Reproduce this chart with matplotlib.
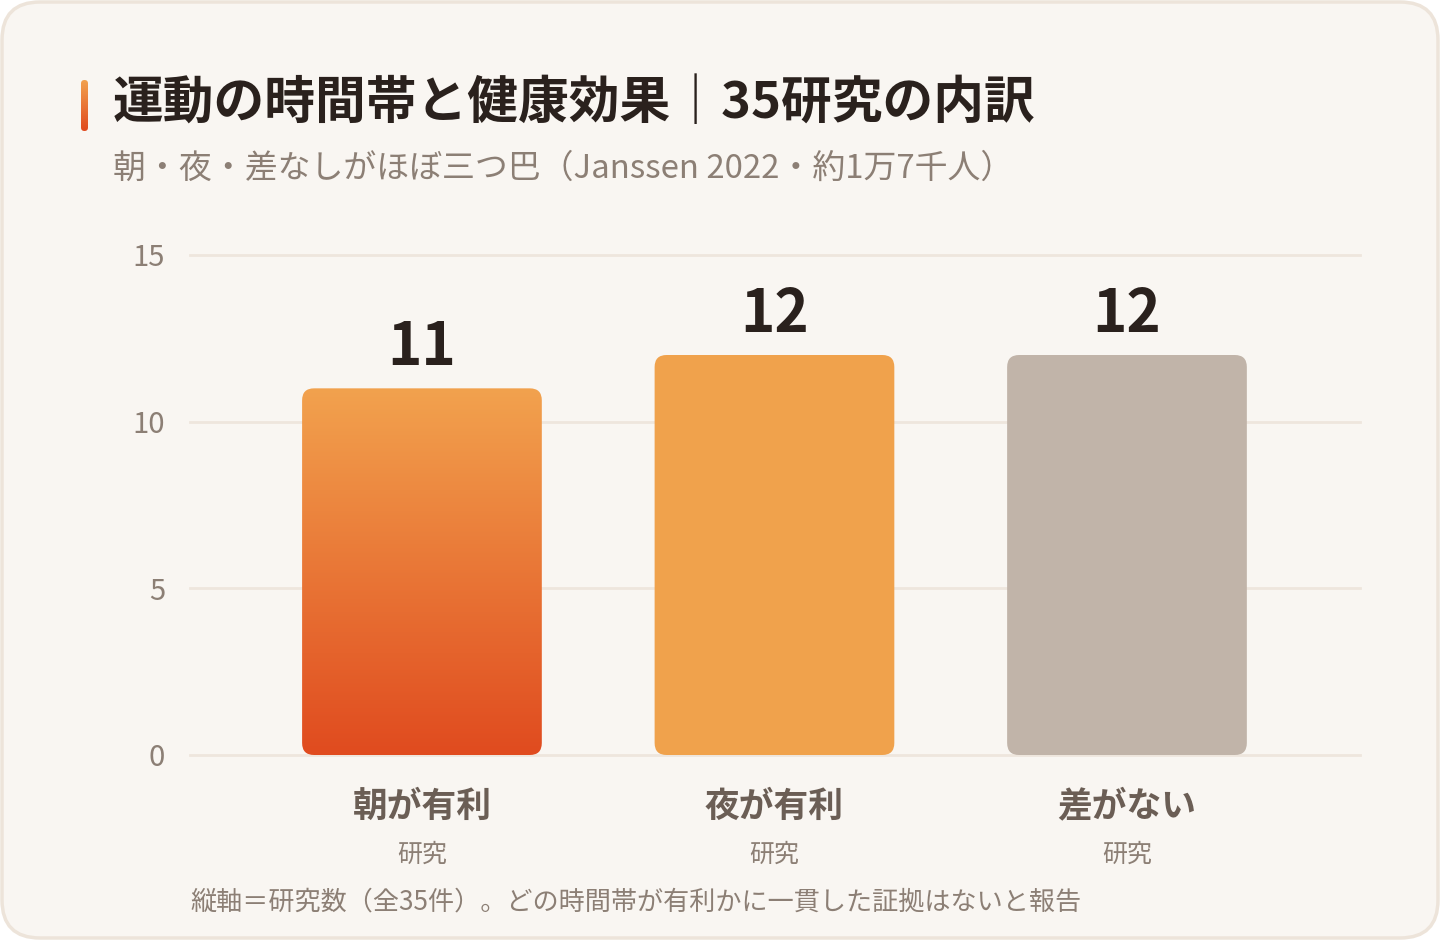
import numpy as np
import matplotlib
matplotlib.use("Agg")
import matplotlib.pyplot as plt
from matplotlib.patches import FancyBboxPatch
from matplotlib.colors import LinearSegmentedColormap

plt.rcParams['font.family'] = ['Noto Sans CJK JP', 'DejaVu Sans']

# data
categories = ['朝が有利', '夜が有利', '差がない']
sublabels = ['研究', '研究', '研究']
counts = [11, 12, 12]
yticks = [0, 5, 10, 15]

title = '運動の時間帯と健康効果｜35研究の内訳'
subtitle = '朝・夜・差なしがほぼ三つ巴（Janssen 2022・約1万7千人）'
footnote = '縦軸＝研究数（全35件）。どの時間帯が有利かに一貫した証拠はないと報告'

# colours
bg = '#F9F6F2'
border = '#EDE4DA'
grid_c = '#EEE6DD'
dark = '#2A211D'
mid = '#6B5E55'
soft = '#8C7F75'
bar_colors = [None, '#F0A24C', '#C1B4A9']
grad = LinearSegmentedColormap.from_list('g', ['#E04B1F', '#F2A24E'])

W, H = 1440, 940
fig = plt.figure(figsize=(W / 100, H / 100), dpi=100, facecolor='white')

# card background
card = FancyBboxPatch((2 / W, 2 / H), 1 - 4 / W, 1 - 4 / H,
                      boxstyle='round,pad=0,rounding_size=%f' % (38 / W),
                      mutation_aspect=W / H, transform=fig.transFigure,
                      facecolor=bg, edgecolor=border, linewidth=2.5, zorder=-10)
fig.patches.append(card)

# accent bar next to the title
acc = fig.add_axes([81 / W, 1 - 131 / H, 7 / W, 51 / H])
acc.axis('off')
acc.set_xlim(0, 1)
acc.set_ylim(0, 1)
img = acc.imshow(np.linspace(0, 1, 100).reshape(-1, 1), cmap=grad, origin='lower',
                 extent=[0, 1, 0, 1], aspect='auto')
clip = FancyBboxPatch((0, 0), 1, 1, boxstyle='round,pad=0,rounding_size=0.5',
                      mutation_aspect=7 / 51, transform=acc.transData,
                      facecolor='none', edgecolor='none')
acc.add_patch(clip)
img.set_clip_path(clip)

fig.text(113 / W, 1 - 103 / H, title, fontsize=36.5, fontweight='bold',
         color=dark, va='center', ha='left')
fig.text(113 / W, 1 - 169 / H, subtitle, fontsize=23.7, color=soft,
         va='center', ha='left')
fig.text(190 / W, 1 - 902 / H, footnote, fontsize=18.8, color=soft,
         va='center', ha='left')

# main axes
left, right, top, bottom = 190, 1360, 255, 755
ax = fig.add_axes([left / W, 1 - bottom / H, (right - left) / W, (bottom - top) / H])
ax.set_facecolor('none')
for s in ax.spines.values():
    s.set_visible(False)

x = np.arange(len(categories))
xlim = (-0.658, 2.661)
ylim = (0, 15)
bar_w = 0.68

for yt in yticks:
    ax.axhline(yt, color=grid_c, linewidth=2, zorder=0, clip_on=False)

px_x = (right - left) / (xlim[1] - xlim[0])
px_y = (bottom - top) / (ylim[1] - ylim[0])
r_px = 12
r_x = r_px / px_x
aspect = px_x / px_y

for i, (xi, v) in enumerate(zip(x, counts)):
    x0 = xi - bar_w / 2
    if bar_colors[i] is None:
        p = FancyBboxPatch((x0, 0), bar_w, v,
                           boxstyle='round,pad=0,rounding_size=%f' % r_x,
                           mutation_aspect=aspect, facecolor='none',
                           edgecolor='none', zorder=2)
        ax.add_patch(p)
        im = ax.imshow(np.linspace(0, 1, 256).reshape(-1, 1), cmap=grad,
                       origin='lower', extent=[x0, x0 + bar_w, 0, v],
                       aspect='auto', zorder=2)
        im.set_clip_path(p)
    else:
        p = FancyBboxPatch((x0, 0), bar_w, v,
                           boxstyle='round,pad=0,rounding_size=%f' % r_x,
                           mutation_aspect=aspect, facecolor=bar_colors[i],
                           edgecolor='none', zorder=2)
        ax.add_patch(p)
    ax.annotate(str(v), (xi, v), xytext=(0, 23), textcoords='offset pixels',
                ha='center', va='baseline', fontsize=42, fontweight='bold',
                color=dark)
    ax.annotate(categories[i], (xi, 0), xycoords=('data', 'axes fraction'),
                xytext=(0, -51), textcoords='offset pixels', ha='center',
                va='center', fontsize=25, fontweight='bold', color=mid)
    ax.annotate(sublabels[i], (xi, 0), xycoords=('data', 'axes fraction'),
                xytext=(0, -100), textcoords='offset pixels', ha='center',
                va='center', fontsize=18, color=soft)

ax.set_xlim(*xlim)
ax.set_ylim(*ylim)
ax.set_xticks([])
ax.set_yticks(yticks)
ax.set_yticklabels([str(t) for t in yticks], fontsize=21, color=soft)
ax.tick_params(axis='y', length=0, pad=18)

fig.savefig('out.png', dpi=100, facecolor='white')
